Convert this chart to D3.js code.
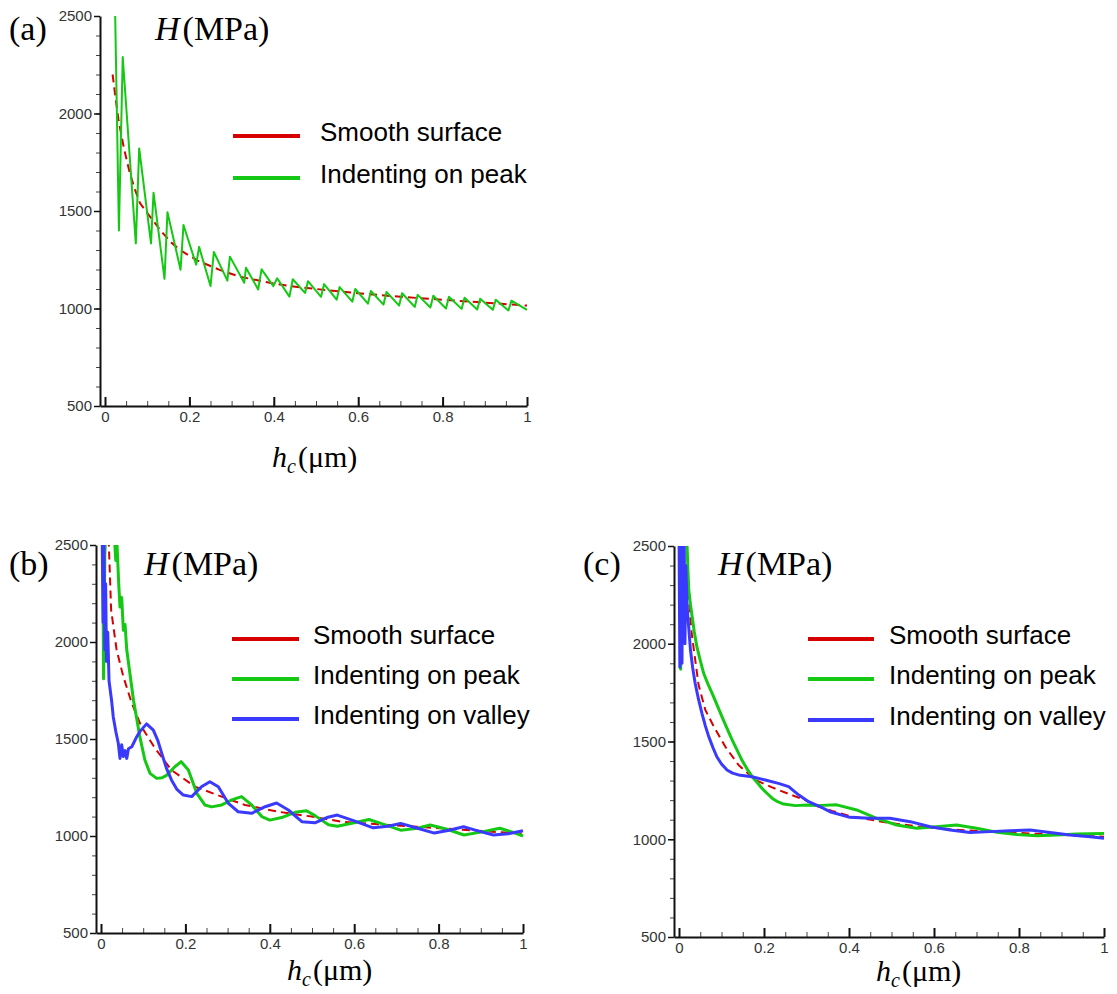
<!DOCTYPE html>
<html>
<head>
<meta charset="utf-8">
<title></title>
<script src="https://d3js.org/d3.v7.min.js"></script>
<style>
  body { margin: 0; background: #fff; }
  svg text { font-family: "Liberation Sans", Arial, sans-serif; }
  .serif { font-family: "Liberation Serif", "Times New Roman", serif; }
</style>
</head>
<body>
<svg id="chart" width="1117" height="994"></svg>
<script>
// tick values and labels
const yTicks = [500, 1000, 1500, 2000, 2500];
const xTicks = [0, 0.2, 0.4, 0.6, 0.8, 1];
const xTickLabels = ["0", "0.2", "0.4", "0.6", "0.8", "1"];
const legendNames = ["Smooth surface", "Indenting on peak", "Indenting on valley"];

// (a) hc (um), H (MPa)
const smoothA = [[0.018,2200],[0.025,2080],[0.032,1967],[0.045,1820],[0.059,1693],[0.071,1610],[0.083,1540],
  [0.107,1470],[0.134,1394],[0.156,1340],[0.178,1300],[0.2,1270],[0.225,1240],[0.25,1218],[0.273,1197],
  [0.32,1163],[0.367,1142],[0.4,1128],[0.438,1115],[0.5,1100],[0.6,1078],[0.7,1060],[0.8,1045],[0.9,1030],[1.0,1015]];
const peakA = [[0.024,2520],[0.033,1400],[0.042,2290],[0.073,1334],[0.081,1821],[0.109,1334],[0.115,1594],
  [0.141,1152],[0.148,1494],[0.179,1199],[0.186,1428],[0.216,1225],[0.223,1316],[0.250,1115],[0.258,1290],
  [0.290,1143],[0.296,1266],[0.330,1132],[0.334,1209],[0.363,1098],[0.371,1201],[0.399,1115],[0.408,1155],
  [0.437,1061],[0.445,1150],[0.474,1080],[0.481,1140],[0.512,1060],[0.519,1125],[0.549,1045],[0.556,1110],
  [0.586,1035],[0.593,1100],[0.623,1025],[0.630,1090],[0.660,1020],[0.667,1085],[0.697,1015],[0.704,1078],
  [0.734,1008],[0.741,1070],[0.771,1005],[0.778,1065],[0.808,1000],[0.815,1060],[0.845,998],[0.852,1055],
  [0.882,995],[0.889,1050],[0.919,993],[0.926,1045],[0.956,990],[0.963,1040],[1.0,993]];

// (b)
const smoothB = [[0.017,2600],[0.024,2165],[0.037,1959],[0.053,1821],[0.073,1684],[0.096,1563],[0.128,1452],
  [0.167,1340],[0.223,1254],[0.286,1203],[0.341,1160],[0.42,1125],[0.499,1100],[0.57,1074],[0.66,1060],
  [0.748,1048],[0.866,1031],[1.0,1012]];
const peakB = [[0.004,2600],[0.006,1810],[0.009,2450],[0.012,2600],[0.03,2600],[0.035,2420],[0.038,2500],
  [0.042,2300],[0.045,2180],[0.049,2230],[0.053,2060],[0.057,2090],[0.061,1960],[0.069,1830],[0.077,1700],
  [0.085,1600],[0.092,1512],[0.104,1392],[0.116,1323],[0.132,1297],[0.145,1300],[0.156,1314],[0.175,1357],
  [0.190,1383],[0.207,1340],[0.227,1220],[0.246,1160],[0.262,1150],[0.286,1160],[0.310,1186],[0.333,1203],
  [0.357,1160],[0.381,1100],[0.40,1082],[0.428,1095],[0.46,1122],[0.487,1130],[0.507,1105],[0.539,1058],
  [0.56,1050],[0.60,1068],[0.635,1085],[0.67,1060],[0.71,1030],[0.745,1038],[0.78,1057],[0.82,1035],
  [0.86,1005],[0.90,1020],[0.945,1040],[0.975,1020],[1.0,1000]];
const valleyB = [[0.0,2600],[0.003,2500],[0.005,2100],[0.007,2500],[0.009,1960],[0.011,2300],[0.013,1900],
  [0.016,2050],[0.019,1800],[0.022,1750],[0.025,1700],[0.029,1615],[0.035,1540],[0.041,1478],[0.045,1400],
  [0.049,1470],[0.053,1410],[0.057,1440],[0.061,1400],[0.065,1450],[0.073,1460],[0.083,1505],[0.092,1538],
  [0.108,1578],[0.124,1546],[0.135,1490],[0.144,1426],[0.155,1350],[0.167,1289],[0.18,1240],[0.195,1211],
  [0.215,1203],[0.238,1254],[0.258,1280],[0.278,1254],[0.302,1168],[0.325,1125],[0.357,1117],[0.389,1151],
  [0.416,1170],[0.444,1134],[0.476,1074],[0.507,1068],[0.535,1095],[0.56,1108],[0.60,1078],[0.645,1042],
  [0.68,1050],[0.71,1065],[0.75,1040],[0.79,1015],[0.825,1030],[0.859,1048],[0.895,1025],[0.93,1005],
  [0.965,1012],[1.0,1027]];

// (c)
const smoothC = [[0.016,2600],[0.022,2250],[0.03,2050],[0.046,1790],[0.062,1661],[0.082,1576],[0.109,1473],
  [0.14,1380],[0.18,1303],[0.219,1265],[0.258,1232],[0.297,1200],[0.324,1170],[0.36,1145],[0.402,1119],
  [0.481,1088],[0.559,1066],[0.638,1051],[0.716,1040],[0.795,1033],[0.873,1025],[1.0,1013]];
const peakC = [[0.002,2600],[0.004,1870],[0.006,2350],[0.009,2600],[0.015,2600],[0.019,2500],[0.021,2380],
  [0.023,2275],[0.027,2200],[0.031,2138],[0.036,2060],[0.042,1985],[0.05,1915],[0.058,1849],[0.068,1795],
  [0.078,1746],[0.09,1685],[0.101,1627],[0.113,1567],[0.125,1508],[0.137,1455],[0.148,1405],[0.160,1360],
  [0.172,1320],[0.184,1290],[0.195,1261],[0.207,1235],[0.219,1210],[0.232,1192],[0.246,1180],[0.274,1172],
  [0.3,1175],[0.324,1172],[0.371,1176],[0.418,1150],[0.465,1107],[0.512,1073],[0.559,1056],[0.606,1064],
  [0.653,1073],[0.70,1056],[0.748,1036],[0.795,1024],[0.842,1018],[0.889,1022],[0.936,1027],[1.0,1030]];
const valleyC = [[0.0,2600],[0.002,1880],[0.004,2600],[0.007,1900],[0.009,2600],[0.012,2600],[0.014,2000],
  [0.016,2400],[0.019,2190],[0.023,2080],[0.027,1968],[0.032,1880],[0.038,1798],[0.046,1715],[0.054,1644],
  [0.062,1580],[0.070,1525],[0.08,1468],[0.089,1422],[0.1,1385],[0.113,1354],[0.126,1338],[0.140,1329],
  [0.172,1320],[0.203,1303],[0.234,1286],[0.258,1269],[0.282,1226],[0.305,1192],[0.329,1170],[0.355,1141],
  [0.402,1112],[0.449,1107],[0.496,1107],[0.544,1090],[0.591,1064],[0.638,1047],[0.685,1034],[0.732,1039],
  [0.779,1044],[0.826,1047],[0.873,1034],[0.92,1022],[0.967,1013],[1.0,1005]];

const RED = "#d60000", GREEN = "#14c814", BLUE = "#3a3aff";

const svg = d3.select("#chart");

function panel(p) {
  const g = svg.append("g");
  // x axis line starts a bit left of 0
  const xmin = -(p.x0 - p.left) / (p.x1 - p.x0);
  const x = d3.scaleLinear().domain([xmin, 1]).range([p.left, p.x1]);
  const y = d3.scaleLinear().domain([500, 2500]).range([p.bottom, p.top]);

  svg.append("clipPath").attr("id", "clip" + p.name)
    .append("rect").attr("x", p.left).attr("y", p.top)
    .attr("width", p.x1 - p.left + 3).attr("height", p.bottom - p.top);

  const line = d3.line().x(d => x(d[0])).y(d => y(d[1]));
  p.series.forEach(s => {
    g.append("path").datum(s.data)
      .attr("clip-path", "url(#clip" + p.name + ")")
      .attr("d", line)
      .attr("fill", "none")
      .attr("stroke", s.color)
      .attr("stroke-width", s.w)
      .attr("stroke-dasharray", s.dash || null)
      .attr("stroke-linejoin", "round");
  });

  // y axis: minor then major
  g.append("g").attr("transform", `translate(${p.left},0)`)
    .call(d3.axisLeft(y).tickValues(d3.range(500, 2501, 100)).tickSize(4).tickFormat(""))
    .call(a => a.select(".domain").remove())
    .selectAll("line").attr("stroke", "#444").attr("stroke-width", 1);
  const ya = g.append("g").attr("transform", `translate(${p.left},0)`)
    .call(d3.axisLeft(y).tickValues(yTicks).tickSize(6).tickSizeOuter(0).tickPadding(2).tickFormat(d3.format("d")));
  ya.select(".domain").attr("stroke", "#111").attr("stroke-width", 2);
  ya.selectAll("line").attr("stroke", "#111").attr("stroke-width", 1.5);
  ya.selectAll("text").attr("font-size", 15).attr("fill", "#333")
    .attr("font-family", "Liberation Sans, Arial, sans-serif");

  // x axis: ticks point up into the plot
  g.append("g").attr("transform", `translate(0,${p.bottom})`)
    .call(d3.axisBottom(x).tickValues(d3.range(0, 1.0001, 0.05)).tickSize(-5).tickFormat(""))
    .call(a => a.select(".domain").remove())
    .selectAll("line").attr("stroke", "#444").attr("stroke-width", 1);
  const xa = g.append("g").attr("transform", `translate(0,${p.bottom})`)
    .call(d3.axisBottom(x).tickValues(xTicks).tickSize(-9).tickSizeOuter(0).tickPadding(5)
      .tickFormat((d, i) => xTickLabels[i]));
  xa.select(".domain").attr("stroke", "#111").attr("stroke-width", 2);
  xa.selectAll("line").attr("stroke", "#111").attr("stroke-width", 2);
  xa.selectAll("text").attr("font-size", 15).attr("fill", "#333")
    .attr("font-family", "Liberation Sans, Arial, sans-serif");

  // panel tag and y title
  g.append("text").attr("class", "serif").attr("x", p.tagX).attr("y", p.titleY)
    .attr("font-size", 34).attr("fill", "#000").text(p.tag);
  const yt = g.append("text").attr("class", "serif").attr("x", p.titleX).attr("y", p.titleY)
    .attr("font-size", 34).attr("fill", "#000");
  yt.append("tspan").attr("font-style", "italic").text("H");
  yt.append("tspan").attr("dx", 3).text("(MPa)");

  // x title
  const xt = g.append("text").attr("class", "serif").attr("x", p.xlabX).attr("y", p.xlabY)
    .attr("font-size", 30).attr("fill", "#000");
  xt.append("tspan").attr("font-style", "italic").text("h");
  xt.append("tspan").attr("font-style", "italic").attr("font-size", 20).attr("dy", 6).text("c");
  xt.append("tspan").attr("dy", -6).attr("dx", 2).text("(\u03bcm)");

  // legend
  p.series.forEach((s, i) => {
    const ly = p.legY[i];
    g.append("line").attr("x1", p.legX1).attr("x2", p.legX2).attr("y1", ly).attr("y2", ly)
      .attr("stroke", s.color).attr("stroke-width", 4);
    g.append("text").attr("x", p.legTextX).attr("y", ly + 5)
      .attr("font-size", 26).attr("fill", "#000").text(legendNames[i]);
  });
}

panel({
  name: "a", left: 100, x0: 105, x1: 527, top: 16, bottom: 406,
  tag: "(a)", tagX: 9, titleX: 155, titleY: 40, xlabX: 272, xlabY: 467,
  legX1: 233, legX2: 300, legTextX: 320, legY: [136, 178],
  series: [
    { data: smoothA, color: RED, w: 2, dash: "8,5" },
    { data: peakA, color: GREEN, w: 2 }
  ]
});

panel({
  name: "b", left: 96, x0: 101, x1: 523, top: 545, bottom: 933,
  tag: "(b)", tagX: 9, titleX: 144, titleY: 575, xlabX: 287, xlabY: 980,
  legX1: 232, legX2: 299, legTextX: 313, legY: [639, 679, 719],
  series: [
    { data: smoothB, color: RED, w: 2, dash: "8,5" },
    { data: peakB, color: GREEN, w: 3 },
    { data: valleyB, color: BLUE, w: 3 }
  ]
});

panel({
  name: "c", left: 674, x0: 679, x1: 1104, top: 546, bottom: 937,
  tag: "(c)", tagX: 583, titleX: 718, titleY: 575, xlabX: 876, xlabY: 981,
  legX1: 808, legX2: 874, legTextX: 889, legY: [639, 679, 720],
  series: [
    { data: smoothC, color: RED, w: 2, dash: "8,5" },
    { data: peakC, color: GREEN, w: 3 },
    { data: valleyC, color: BLUE, w: 3 }
  ]
});
</script>
</body>
</html>
